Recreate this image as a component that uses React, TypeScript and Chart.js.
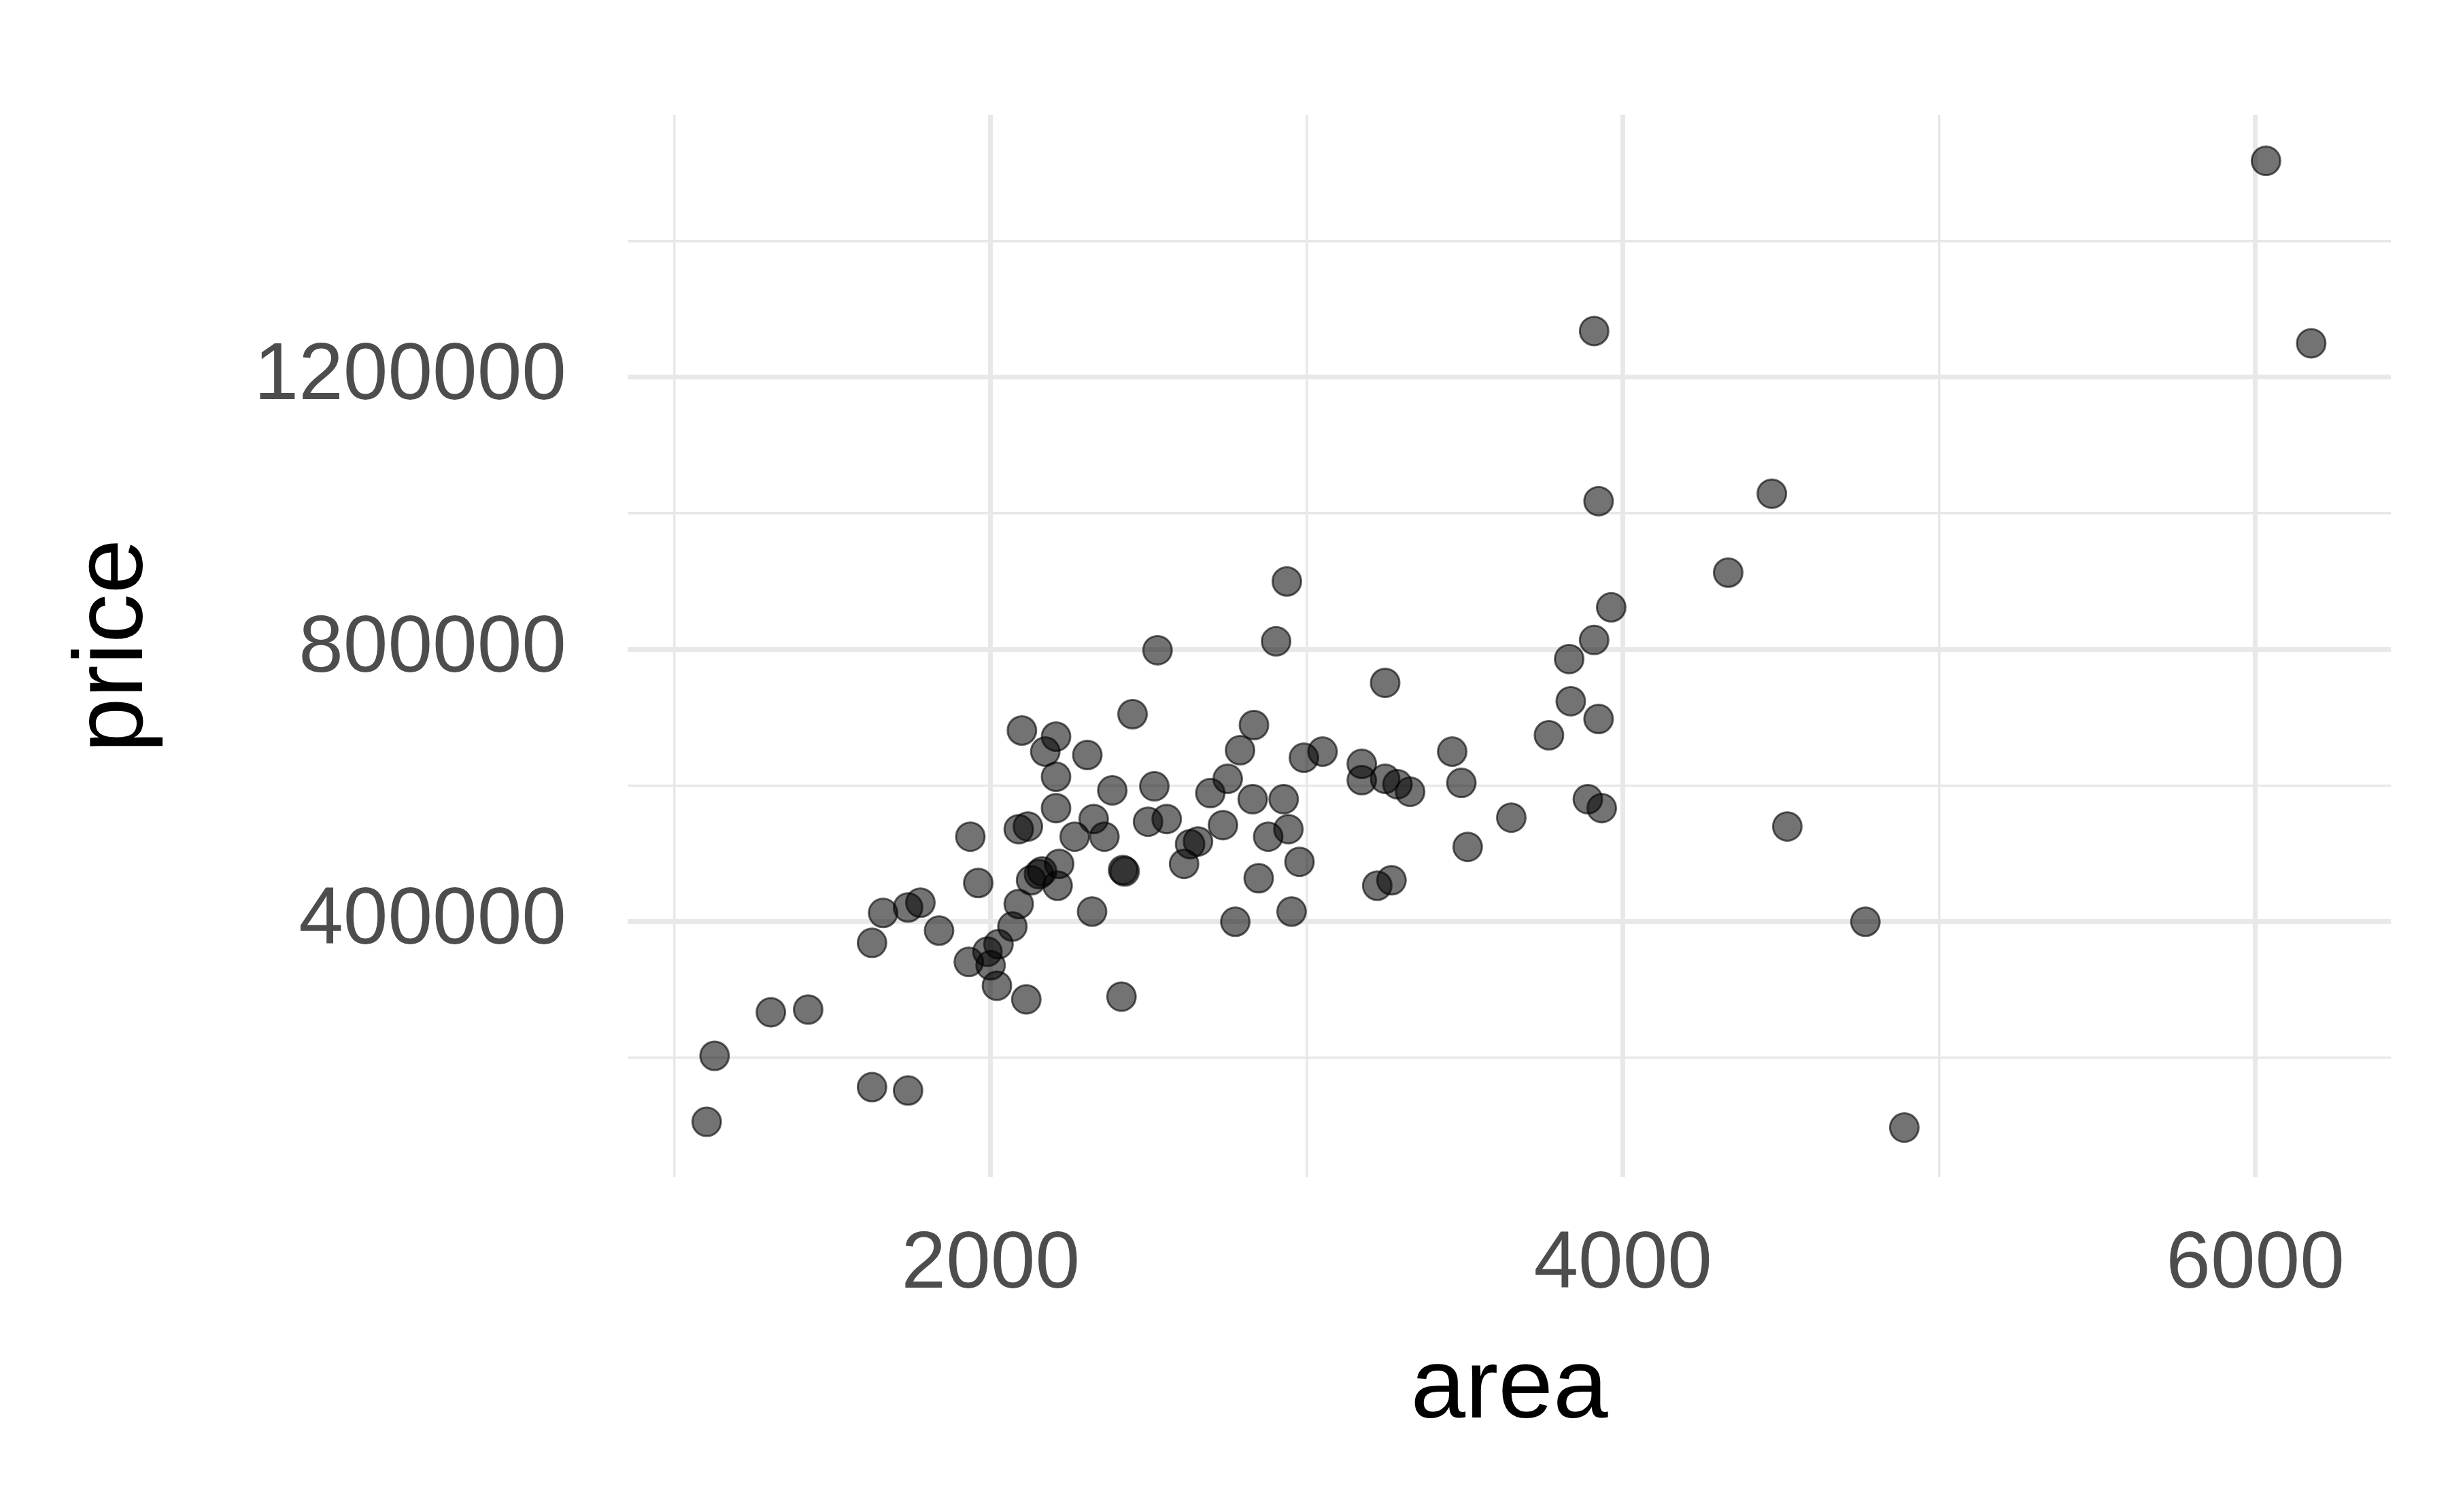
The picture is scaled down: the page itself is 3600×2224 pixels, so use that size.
import React, { useEffect, useRef } from 'react';
import Chart from 'chart.js/auto';

const area = [6034, 6177, 3909, 3923, 4471, 4333, 3963, 3909, 3830, 3835, 3923, 3766, 3889, 3933, 4520, 4767, 4890,
  2937, 2903, 2528, 2449, 3248, 2833, 2099, 2207, 2173, 2306, 2207, 2385, 2518, 2789, 2750, 2829, 2927, 2991, 3050,
  3174, 3174, 3248, 3287, 3327, 3460, 3489, 3647, 3509, 2498, 2266, 2207, 2360, 2326, 2118, 2089, 1936, 2656, 2631,
  2612, 2735, 2878, 2942, 2977, 2848, 2424, 2419, 2217, 2163, 2153, 2212, 2128, 2089, 1961, 2069, 2025, 2321, 2774,
  2952, 3223, 3268, 1990, 2000, 1931, 2020, 2113, 2414, 1837, 1778, 1739, 1660, 1625, 1423, 1305, 1127, 1625, 1739,
  1102, 2695, 2557];
const price = [1518000, 1250000, 1268000, 1018000, 1029000, 913000, 862000, 814000, 786000, 724000, 698000, 674000,
  580000, 567000, 540000, 400000, 97500, 900000, 812000, 799000, 705000, 751000, 689000, 681000, 672000, 650000,
  645000, 613000, 593000, 599000, 652000, 610000, 580000, 580000, 641000, 650000, 632000, 608000, 610000, 602000,
  591000, 650000, 604000, 553000, 510000, 547000, 525000, 567000, 525000, 551000, 540000, 536000, 525000, 518000,
  514000, 485000, 542000, 525000, 536000, 488000, 464000, 474000, 476000, 485000, 474000, 470000, 453000, 461000,
  426000, 457000, 393000, 367000, 415000, 400000, 415000, 453000, 461000, 356000, 336000, 341000, 306000, 286000,
  290000, 387000, 428000, 421000, 413000, 369000, 271000, 267000, 203000, 157000, 152000, 106000, 589000, 551000];

const xTicks = [1000, 2000, 3000, 4000, 5000, 6000];
const xLabels = [2000, 4000, 6000];
const yTicks = [200000, 400000, 600000, 800000, 1000000, 1200000, 1400000];
const yLabels = [400000, 800000, 1200000];

export default function App() {
  const chartRef = useRef<HTMLCanvasElement | null>(null);
  const chartInstanceRef = useRef<Chart | null>(null);

  useEffect(() => {
    if (!chartRef.current) return;
    const font = 'Liberation Sans, Arial, sans-serif';
    chartInstanceRef.current = new Chart(chartRef.current, {
      type: 'scatter',
      data: {
        datasets: [{
          data: area.map((a, i) => ({ x: a, y: price[i] })),
          backgroundColor: 'rgba(0,0,0,0.55)',
          borderColor: 'rgba(0,0,0,0.6)',
          borderWidth: 3,
          pointRadius: 21,
        }],
      },
      options: {
        animation: false,
        responsive: false,
        devicePixelRatio: 1,
        layout: { padding: { top: 10, right: 76, left: 70, bottom: 80 } },
        plugins: { legend: { display: false }, tooltip: { enabled: false } },
        scales: {
          x: {
            type: 'linear',
            min: 852,
            max: 6429,
            afterBuildTicks: (s: any) => { s.ticks = xTicks.map(v => ({ value: v })); },
            afterFit: (s: any) => { s.height = 405; },
            border: { display: false },
            grid: {
              color: '#e8e8e8',
              lineWidth: (c: any) => (xLabels.includes(c.tick?.value) ? 7 : 3.5),
              drawTicks: false,
            },
            ticks: {
              autoSkip: false,
              maxRotation: 0,
              padding: 60,
              color: '#4d4d4d',
              font: { family: font, size: 118 },
              callback: (v: any) => (xLabels.includes(v) ? String(v) : ''),
            },
            title: { display: true, text: 'area', color: '#000', font: { family: font, size: 145 }, padding: { top: 10 } },
          },
          y: {
            type: 'linear',
            min: 25200,
            max: 1585750,
            afterBuildTicks: (s: any) => { s.ticks = yTicks.map(v => ({ value: v })); },
            afterFit: (s: any) => { s.width = 845; },
            border: { display: false },
            grid: {
              color: '#e8e8e8',
              lineWidth: (c: any) => (yLabels.includes(c.tick?.value) ? 7 : 3.5),
              drawTicks: false,
            },
            ticks: {
              autoSkip: false,
              padding: 90,
              color: '#4d4d4d',
              font: { family: font, size: 118 },
              callback: (v: any) => (yLabels.includes(v) ? String(v) : ''),
            },
            title: { display: true, text: 'price', color: '#000', font: { family: font, size: 145 }, padding: { bottom: 20 } },
          },
        },
      },
    });
    return () => { chartInstanceRef.current?.destroy(); };
  }, []);

  return <canvas ref={chartRef} width={3584} height={2208} style={{ display: 'block' }} />;
}
